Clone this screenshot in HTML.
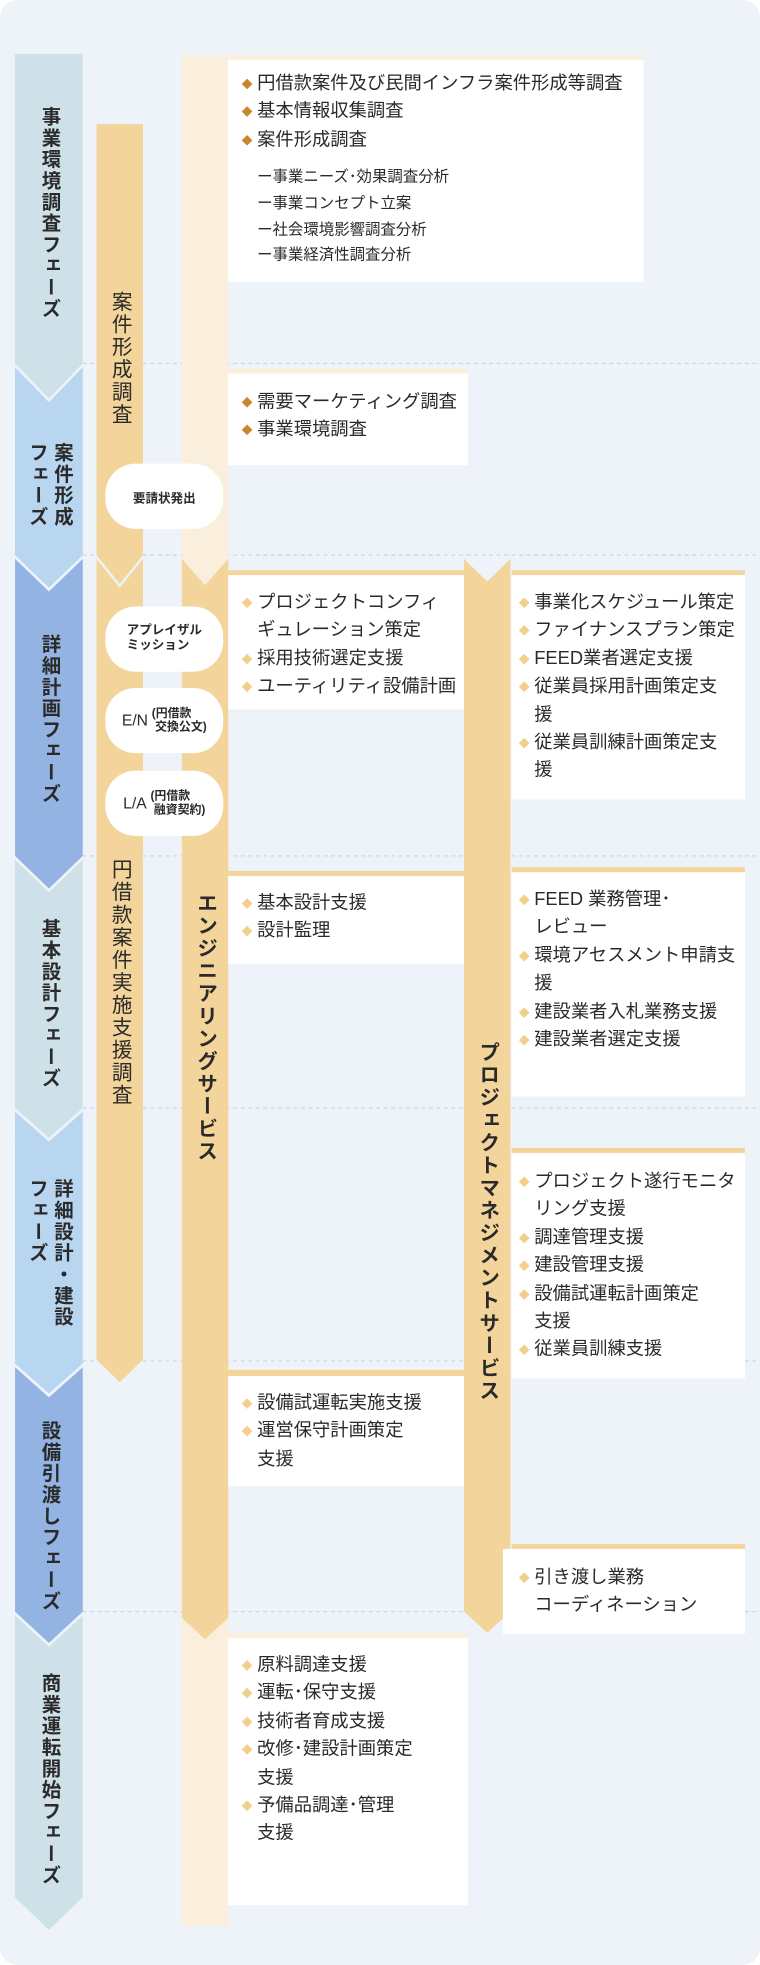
<!DOCTYPE html>
<html><head><meta charset="utf-8"><style>
html,body{margin:0;padding:0;background:#fff;}
body{width:760px;height:1965px;overflow:hidden;position:relative;}
#wrap{position:absolute;left:0;top:0;width:606px;height:1568px;transform:scale(1.2541,1.2532);transform-origin:0 0;font-family:"Liberation Sans","Noto Sans CJK JP",sans-serif;color:#2a2a2a;}
svg{position:absolute;left:0;top:0;}
.t{position:absolute;white-space:nowrap;font-size:14.6px;line-height:22.4px;}
.t div{position:relative;padding-left:12px;}
.d::before{content:"";position:absolute;left:1px;top:8px;width:6px;height:6px;background:#f2cf8a;transform:rotate(45deg);}
.dk::before{background:#c8882a;}
.sub{position:absolute;white-space:nowrap;font-size:12.3px;line-height:20.8px;}
.v{position:absolute;writing-mode:vertical-rl;font-weight:bold;white-space:nowrap;transform:translate(-50%,-50%);}
.ph{font-size:15.5px;line-height:20px;letter-spacing:1.5px;}
.col{font-size:16.5px;letter-spacing:1.5px;line-height:20px;}
.pill{position:absolute;left:84px;width:94px;background:#fff;border-radius:24px;display:flex;align-items:center;justify-content:center;font-weight:bold;text-align:left;}
</style></head><body><div id="wrap">
<svg width="606" height="1568" viewBox="0 0 606 1568">
<rect x="0" y="0" width="606" height="1568" rx="14" fill="#eef3fa"/>
<g stroke="#cfd6df" stroke-width="1" stroke-dasharray="3,3">
<line x1="66" y1="290" x2="606" y2="290"/><line x1="66" y1="443" x2="606" y2="443"/>
<line x1="66" y1="683" x2="606" y2="683"/><line x1="66" y1="884" x2="606" y2="884"/>
<line x1="66" y1="1086" x2="606" y2="1086"/><line x1="66" y1="1286" x2="606" y2="1286"/>
</g>
<polygon points="12,43 66,43 66,290 39,318 12,290" fill="#cee1e8"/>
<polygon points="12,293 39,321 66,293 66,443 39,469 12,443" fill="#b8d6f0"/>
<polygon points="12,446 39,472 66,446 66,683 39,709 12,683" fill="#93b3e3"/>
<polygon points="12,686 39,712 66,686 66,884 39,908 12,884" fill="#cee1e8"/>
<polygon points="12,887 39,911 66,887 66,1088 39,1112 12,1088" fill="#b8d6f0"/>
<polygon points="12,1091 39,1115 66,1091 66,1286 39,1311 12,1286" fill="#93b3e3"/>
<polygon points="12,1289 39,1314 66,1289 66,1514 39,1540 12,1514" fill="#cee1e8"/>
<polygon points="77,99 114,99 114,443 95.5,466 77,443" fill="#f3d59b"/>
<polygon points="77,446 95.5,469 114,446 114,1085 95.5,1103 77,1085" fill="#f3d59b"/>
<rect x="145" y="44" width="37" height="1493" fill="#faefdc"/>
<polygon points="145,446 163.5,467 182,446 182,1291 163.5,1308 145,1291" fill="#f3d59b"/>
<polygon points="370,446 388.5,464 407,446 407,1286 388.5,1303 370,1286" fill="#f3d59b"/>
<rect x="182" y="44" width="331" height="4" fill="#faefdc"/><rect x="182" y="48" width="331" height="177" fill="#fff"/>
<rect x="182" y="294" width="191" height="4" fill="#faefdc"/><rect x="182" y="298" width="191" height="73" fill="#fff"/>
<rect x="182" y="455" width="188" height="4" fill="#f3d59b"/><rect x="182" y="459" width="188" height="107" fill="#fff"/>
<rect x="408" y="455" width="186" height="4" fill="#f3d59b"/><rect x="408" y="459" width="186" height="179" fill="#fff"/>
<rect x="182" y="695" width="188" height="4" fill="#f3d59b"/><rect x="182" y="699" width="188" height="70" fill="#fff"/>
<rect x="408" y="692" width="186" height="4" fill="#f3d59b"/><rect x="408" y="696" width="186" height="179" fill="#fff"/>
<rect x="408" y="916" width="186" height="4" fill="#f3d59b"/><rect x="408" y="920" width="186" height="180" fill="#fff"/>
<rect x="182" y="1093" width="188" height="5" fill="#f3d59b"/><rect x="182" y="1098" width="188" height="88" fill="#fff"/>
<rect x="408" y="1232" width="186" height="4" fill="#f3d59b"/><rect x="401" y="1236" width="193" height="68" fill="#fff"/>
<rect x="182" y="1303" width="191" height="4" fill="#faefdc"/><rect x="182" y="1307" width="191" height="213" fill="#fff"/>
</svg>

<div class="v ph" style="left:39px;top:170px;">事業環境調査フェーズ</div>
<div class="v ph" style="left:39px;top:387px;">案件形成<br>フェーズ</div>
<div class="v ph" style="left:39px;top:574px;">詳細計画フェーズ</div>
<div class="v ph" style="left:39px;top:801px;">基本設計フェーズ</div>
<div class="v ph" style="left:39px;top:1000px;">詳細設計・建設<br>フェーズ</div>
<div class="v ph" style="left:39px;top:1210px;">設備引渡しフェーズ</div>
<div class="v ph" style="left:39px;top:1420px;">商業運転開始フェーズ</div>

<div class="v col" style="left:95.5px;top:286px;font-weight:normal;">案件形成調査</div>
<div class="v col" style="left:95.5px;top:784px;font-weight:normal;">円借款案件実施支援調査</div>
<div class="v col" style="left:163.5px;top:820px;">エンジニアリングサービス</div>
<div class="v col" style="left:388.5px;top:975px;">プロジェクトマネジメントサービス</div>

<div class="pill" style="top:370px;height:52px;font-size:10px;">要請状発出</div>
<div class="pill" style="top:484px;height:52px;font-size:10px;line-height:12px;">アプレイザル<br>ミッション</div>
<div class="pill" style="top:549px;height:52px;"><span style="font-size:12.5px;font-weight:normal;margin-right:3px;">E/N</span><span style="font-size:9.5px;line-height:11px;">(円借款<br>&nbsp;交換公文)</span></div>
<div class="pill" style="top:615px;height:52px;"><span style="font-size:12.5px;font-weight:normal;margin-right:3px;">L/A</span><span style="font-size:9.5px;line-height:11px;">(円借款<br>&nbsp;融資契約)</span></div>

<div class="t" style="left:193px;top:56px;"><div class="d dk">円借款案件及び民間インフラ案件形成等調査</div><div class="d dk">基本情報収集調査</div><div class="d dk">案件形成調査</div></div>
<div class="sub" style="left:205px;top:131px;">ー事業ニーズ･効果調査分析<br>ー事業コンセプト立案<br>ー社会環境影響調査分析<br>ー事業経済性調査分析</div>
<div class="t" style="left:193px;top:310px;"><div class="d dk">需要マーケティング調査</div><div class="d dk">事業環境調査</div></div>
<div class="t" style="left:193px;top:470px;"><div class="d">プロジェクトコンフィ</div><div>ギュレーション策定</div><div class="d">採用技術選定支援</div><div class="d">ユーティリティ設備計画</div></div>
<div class="t" style="left:414px;top:470px;"><div class="d">事業化スケジュール策定</div><div class="d">ファイナンスプラン策定</div><div class="d">FEED業者選定支援</div><div class="d">従業員採用計画策定支</div><div>援</div><div class="d">従業員訓練計画策定支</div><div>援</div></div>
<div class="t" style="left:193px;top:710px;"><div class="d">基本設計支援</div><div class="d">設計監理</div></div>
<div class="t" style="left:414px;top:707px;"><div class="d">FEED 業務管理･</div><div>レビュー</div><div class="d">環境アセスメント申請支</div><div>援</div><div class="d">建設業者入札業務支援</div><div class="d">建設業者選定支援</div></div>
<div class="t" style="left:414px;top:932px;"><div class="d">プロジェクト遂行モニタ</div><div>リング支援</div><div class="d">調達管理支援</div><div class="d">建設管理支援</div><div class="d">設備試運転計画策定</div><div>支援</div><div class="d">従業員訓練支援</div></div>
<div class="t" style="left:193px;top:1109px;"><div class="d">設備試運転実施支援</div><div class="d">運営保守計画策定</div><div>支援</div></div>
<div class="t" style="left:414px;top:1248px;"><div class="d">引き渡し業務</div><div>コーディネーション</div></div>
<div class="t" style="left:193px;top:1318px;"><div class="d">原料調達支援</div><div class="d">運転･保守支援</div><div class="d">技術者育成支援</div><div class="d">改修･建設計画策定</div><div>支援</div><div class="d">予備品調達･管理</div><div>支援</div></div>
</div></body></html>
